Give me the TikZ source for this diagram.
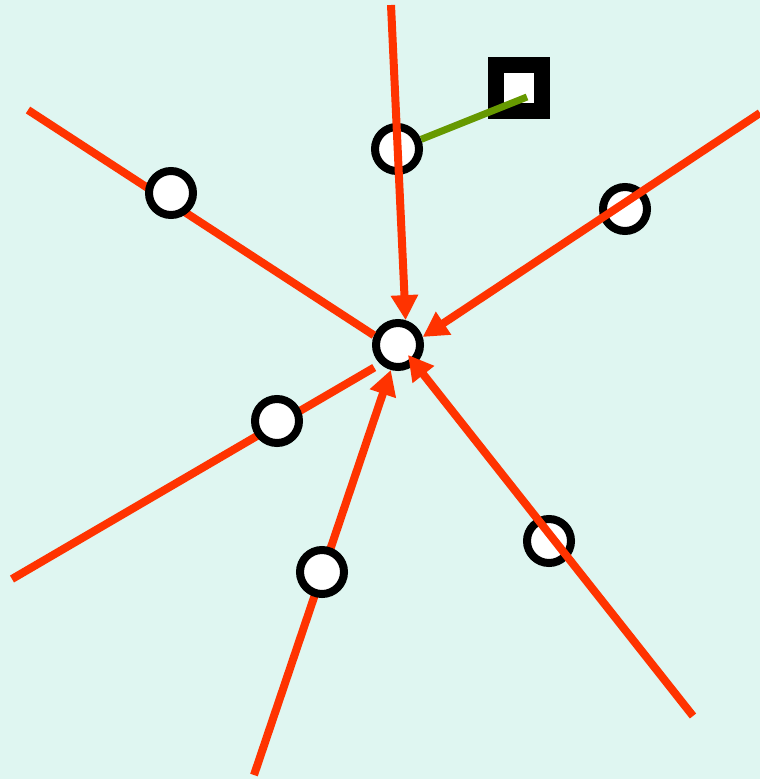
\documentclass[tikz,border=0pt]{standalone}
\usepackage{tikz}
\usetikzlibrary{arrows.meta}
\definecolor{fond}{RGB}{223,246,241}
\definecolor{rouge}{RGB}{255,51,0}
\definecolor{vert}{RGB}{102,153,0}
\tikzset{
  sommet/.style={circle, draw=black, fill=white, line width=8pt, minimum size=44pt, inner sep=0pt},
  carre/.style={rectangle, draw=black, fill=white, line width=16pt, minimum size=46pt, inner sep=0pt},
  arete/.style={draw=rouge, line width=8pt},
  fleche/.style={arete, -{Triangle[length=25pt,width=26pt]}},
  lien/.style={draw=vert, line width=7pt}
}
\begin{document}
\begin{tikzpicture}[x=1pt,y=-1pt]
            % Le fond
            \fill[fond] (0,0) rectangle (760,779);
            \useasboundingbox (0,0) rectangle (760,779);
            % Extrémités libres des arêtes
            \coordinate (e1) at (391,5);
            \coordinate (e2) at (28,110);
            \coordinate (e3) at (760,113);
            \coordinate (e4) at (12,579);
            \coordinate (e5) at (254,775);
            \coordinate (e6) at (693,716);
            % Le sommet central
            \node[sommet] (c) at (398,345) {};
            % Arêtes passant sous les sommets
            \draw[arete] (e2) -- (c.158);
            \draw[arete, shorten >=7pt] (e4) -- (c.227);
            \draw[fleche] (e5) -- (c.254);
            \node[sommet] (s2) at (171,193) {};
            \node[sommet] (s4) at (277,421) {};
            \node[sommet] (s5) at (322,572) {};
            % Sommets sous les arêtes
            \node[sommet] (s1) at (397,149) {};
            \node[sommet] (s3) at (625,209) {};
            \node[sommet] (s6) at (549,541) {};
            % Le carré et son lien
            \node[carre] (q) at (519,88) {};
            \coordinate (qpin) at (527,97);
            \draw[lien] (s1) -- (qpin);
            % Arêtes passant sur les sommets
            \draw[fleche] (e1) -- (c.73);
            \draw[fleche] (e3) -- (c.18);
            \draw[fleche, shorten >=-12pt] (e6) -- (c.312);
\end{tikzpicture}
\end{document}
